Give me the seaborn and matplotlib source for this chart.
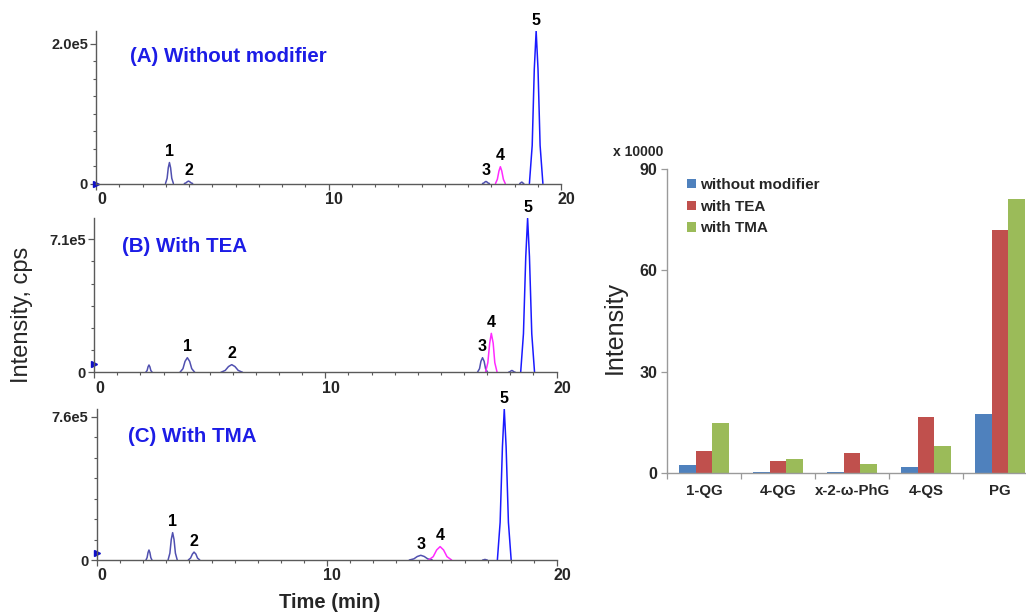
import numpy as np
import pandas as pd
import matplotlib
matplotlib.use("Agg")
import matplotlib.pyplot as plt
import seaborn as sns
from matplotlib.ticker import FixedLocator
from matplotlib.transforms import ScaledTranslation

sns.set_theme(style="ticks")
plt.rcParams["font.family"] = ["Liberation Sans", "DejaVu Sans"]

# ---------------- chromatogram data (time in min, intensity in cps) ----------------
# Panel A: without modifier
A_p1_t = [2.98, 3.05, 3.10, 3.15, 3.20, 3.25, 3.32]
A_p1_y = [0, 7500, 22500, 30000, 22500, 7500, 0]
A_p2_t = [3.79, 3.86, 3.92, 3.97, 4.02, 4.08, 4.15]
A_p2_y = [0, 900, 2600, 3500, 2600, 900, 0]
A_p3_t = [16.62, 16.68, 16.73, 16.77, 16.81, 16.86, 16.92]
A_p3_y = [0, 750, 2250, 3000, 2250, 750, 0]
A_px_t = [18.22, 18.26, 18.28, 18.31, 18.34, 18.36, 18.40]
A_px_y = [0, 500, 1500, 2000, 1500, 500, 0]
A_p4_t = [17.18, 17.26, 17.33, 17.39, 17.45, 17.52, 17.60]
A_p4_y = [0, 6000, 18000, 24000, 18000, 6000, 0]
A_p5_t = [18.64, 18.76, 18.85, 18.93, 19.01, 19.10, 19.22]
A_p5_y = [0, 54500, 163500, 218000, 163500, 54500, 0]

# Panel B: with TEA
B_px_t = [2.23, 2.29, 2.33, 2.37, 2.41, 2.45, 2.51]
B_px_y = [0, 9750, 29250, 39000, 29250, 9750, 0]
B_p1_t = [3.71, 3.84, 3.93, 4.03, 4.13, 4.22, 4.35]
B_p1_y = [0, 19500, 58500, 78000, 58500, 19500, 0]
B_p2_t = [5.48, 5.67, 5.81, 5.95, 6.09, 6.23, 6.42]
B_p2_y = [0, 10250, 30750, 41000, 30750, 10250, 0]
B_p3_t = [16.58, 16.67, 16.73, 16.80, 16.87, 16.93, 17.02]
B_p3_y = [0, 19500, 58500, 78000, 58500, 19500, 0]
B_py_t = [17.92, 17.98, 18.03, 18.07, 18.11, 18.16, 18.22]
B_py_y = [0, 2500, 7500, 10000, 7500, 2500, 0]
B_p4_t = [16.93, 17.03, 17.11, 17.18, 17.26, 17.33, 17.43]
B_p4_y = [0, 52000, 156000, 208000, 156000, 52000, 0]
B_p5_t = [18.45, 18.57, 18.67, 18.75, 18.83, 18.93, 19.05]
B_p5_y = [0, 205500, 616500, 822000, 616500, 205500, 0]

# Panel C: with TMA
C_px_t = [2.14, 2.19, 2.23, 2.27, 2.31, 2.35, 2.40]
C_px_y = [0, 13250, 39750, 53000, 39750, 13250, 0]
C_p1_t = [3.10, 3.18, 3.24, 3.30, 3.36, 3.42, 3.50]
C_p1_y = [0, 36250, 108750, 145000, 108750, 36250, 0]
C_p2_t = [3.98, 4.08, 4.16, 4.23, 4.31, 4.38, 4.48]
C_p2_y = [0, 10500, 31500, 42000, 31500, 10500, 0]
C_p3_t = [13.59, 13.79, 13.94, 14.09, 14.24, 14.39, 14.59]
C_p3_y = [0, 6250, 18750, 25000, 18750, 6250, 0]
C_py_t = [16.78, 16.82, 16.85, 16.88, 16.91, 16.94, 16.98]
C_py_y = [0, 750, 2250, 3000, 2250, 750, 0]
C_p4_t = [14.43, 14.63, 14.78, 14.93, 15.08, 15.23, 15.43]
C_p4_y = [0, 17750, 53250, 71000, 53250, 17750, 0]
C_p5_t = [17.42, 17.54, 17.64, 17.72, 17.80, 17.90, 18.02]
C_p5_y = [0, 200000, 600000, 800000, 600000, 200000, 0]

panel_titles = ["(A) Without modifier", "(B) With TEA", "(C) With TMA"]
y_top_ticks = [2.0e5, 7.1e5, 7.6e5]
y_top_labels = ["2.0e5", "7.1e5", "7.6e5"]
baseline_marks = [0, 43000, 39000]
x_ticklabels = ["0", "10", "20"]

# ---------------- bar chart data (x 10000) ----------------
compounds = ["1-QG", "4-QG", "x-2-\u03c9-PhG", "4-QS", "PG"]
conditions = ["without modifier", "with TEA", "with TMA"]
without_modifier = [2.5, 0.4, 0.2, 1.8, 17.6]
with_TEA = [6.5, 3.5, 5.9, 16.5, 72.0]
with_TMA = [14.7, 4.2, 2.8, 8.1, 81.2]
bar_yticks = [0, 30, 60, 90]

# ---------------- styling ----------------
SLATE = "#5050b0"
MAGENTA = "#ff2aff"
BLUE = "#1a1aff"
AXC = "#5a5a5a"
TITLE_BLUE = "#1c1ce6"

fig = plt.figure(figsize=(10.26, 6.15), dpi=100)

panels = [
    dict(rect=[0.0938, 0.7016, 0.4530, 0.2480], title_pos=(0.073, 0.83), minor_n=8,
         peaks=[("1", SLATE, A_p1_t, A_p1_y), ("2", SLATE, A_p2_t, A_p2_y),
                ("3", SLATE, A_p3_t, A_p3_y), ("", SLATE, A_px_t, A_px_y),
                ("4", MAGENTA, A_p4_t, A_p4_y), ("5", BLUE, A_p5_t, A_p5_y)]),
    dict(rect=[0.0918, 0.3946, 0.4506, 0.2504], title_pos=(0.060, 0.814), minor_n=6,
         peaks=[("", SLATE, B_px_t, B_px_y), ("1", SLATE, B_p1_t, B_p1_y),
                ("2", SLATE, B_p2_t, B_p2_y), ("3", SLATE, B_p3_t, B_p3_y),
                ("", SLATE, B_py_t, B_py_y), ("4", MAGENTA, B_p4_t, B_p4_y),
                ("5", BLUE, B_p5_t, B_p5_y)]),
    dict(rect=[0.0943, 0.0894, 0.4483, 0.2455], title_pos=(0.068, 0.815), minor_n=7,
         peaks=[("", SLATE, C_px_t, C_px_y), ("1", SLATE, C_p1_t, C_p1_y),
                ("2", SLATE, C_p2_t, C_p2_y), ("3", SLATE, C_p3_t, C_p3_y),
                ("", SLATE, C_py_t, C_py_y), ("4", MAGENTA, C_p4_t, C_p4_y),
                ("5", BLUE, C_p5_t, C_p5_y)]),
]

shift_right = ScaledTranslation(4 / 72, 0, fig.dpi_scale_trans)

for i, p in enumerate(panels):
    ax = fig.add_axes(p["rect"])
    frames = []
    for k, (lab, col, t, y) in enumerate(p["peaks"]):
        frames.append(pd.DataFrame({"t": t, "y": y, "peak": k, "color": col}))
    df = pd.concat(frames, ignore_index=True)
    cols = list(dict.fromkeys(df["color"]))
    sns.lineplot(data=df, x="t", y="y", hue="color", units="peak", estimator=None,
                 sort=False, palette={c: c for c in cols}, legend=False,
                 linewidth=1.1, ax=ax)
    ymax = df["y"].max()
    ax.set_xlim(0, 20)
    ax.set_ylim(0, ymax)
    ax.set_xticks([0, 10, 20])
    ax.set_xticklabels(x_ticklabels)
    ax.xaxis.set_minor_locator(FixedLocator(np.arange(0, 21, 1)))
    ax.set_yticks([0, y_top_ticks[i]])
    ax.set_yticklabels(["0", y_top_labels[i]])
    ax.yaxis.set_minor_locator(FixedLocator(np.linspace(0, y_top_ticks[i], p["minor_n"] + 1)))
    ax.set_xlabel("")
    ax.set_ylabel("")
    for s in ["top", "right"]:
        ax.spines[s].set_visible(False)
    for s in ["left", "bottom"]:
        ax.spines[s].set_color(AXC)
        ax.spines[s].set_linewidth(1.0)
    ax.tick_params(which="major", direction="out", length=4, width=0.9, color=AXC, pad=2)
    ax.tick_params(which="minor", direction="out", length=2.5, width=0.8, color=AXC)
    ax.tick_params(axis="x", labelsize=11.5)
    ax.tick_params(axis="y", labelsize=10.5)
    for lbl in ax.get_xticklabels():
        lbl.set_fontweight("bold")
        lbl.set_transform(lbl.get_transform() + shift_right)
    for lbl in ax.get_yticklabels():
        lbl.set_fontweight("bold")
    ax.patch.set_alpha(0)
    ax.text(p["title_pos"][0], p["title_pos"][1], panel_titles[i], transform=ax.transAxes,
            color=TITLE_BLUE, fontsize=14.8, fontweight="bold", va="center", ha="left")
    for lab, col, t, y in p["peaks"]:
        if lab:
            j = int(np.argmax(y))
            ax.annotate(lab, (t[j], y[j]), xytext=(0, 2.5), textcoords="offset points",
                        ha="center", va="bottom", fontsize=11.5, fontweight="bold",
                        color="black", annotation_clip=False)
    ax.plot([0], [baseline_marks[i]], marker=">", color="#1010c8", markersize=5,
            linestyle="none", clip_on=False)

fig.text(22 / 1026, 1 - 315 / 615, "Intensity, cps", rotation=90, ha="center", va="center",
         fontsize=17)
fig.text(330 / 1026, 1 - 603 / 615, "Time (min)", ha="center", va="center",
         fontsize=14.5, fontweight="bold")

# ---------------- bar chart ----------------
axb = fig.add_axes([667 / 1026, 1 - 473 / 615, (1037 - 667) / 1026, (473 - 169) / 615])
bar_df = pd.DataFrame({
    "compound": compounds * 3,
    "value": without_modifier + with_TEA + with_TMA,
    "condition": [conditions[0]] * 5 + [conditions[1]] * 5 + [conditions[2]] * 5,
})
sns.barplot(data=bar_df, x="compound", y="value", hue="condition",
            palette=["#4f81bd", "#c0504d", "#9bbb59"], width=0.68, gap=0,
            saturation=1, edgecolor="none", linewidth=0, ax=axb)
axb.set_xlim(-0.5, 4.5)
axb.set_ylim(0, 90)
axb.set_yticks(bar_yticks)
axb.set_xlabel("")
axb.set_ylabel("")
axb.xaxis.set_minor_locator(FixedLocator(np.arange(-0.5, 5.0, 1.0)))
axb.tick_params(axis="x", which="major", length=0, pad=8, labelsize=10.8)
axb.tick_params(axis="x", which="minor", length=4, width=0.9, color="#9a9a9a", direction="out")
axb.tick_params(axis="y", which="major", length=4, width=0.9, color="#9a9a9a",
                direction="out", labelsize=11.5, pad=3)
for lbl in axb.get_xticklabels() + axb.get_yticklabels():
    lbl.set_fontweight("bold")
for s in ["top", "right"]:
    axb.spines[s].set_visible(False)
for s in ["left", "bottom"]:
    axb.spines[s].set_color("#9a9a9a")
    axb.spines[s].set_linewidth(1.0)
axb.patch.set_alpha(0)
leg = axb.legend(loc="upper left", bbox_to_anchor=(0.055, 0.97), frameon=False,
                 prop={"weight": "bold", "size": 11}, handlelength=0.55,
                 handleheight=0.55, handletextpad=0.25, labelspacing=0.5,
                 borderpad=0, borderaxespad=0)

fig.text(615 / 1026, 1 - 327 / 615, "Intensity", rotation=90, ha="center", va="center",
         fontsize=18)
fig.text(613 / 1026, 1 - 152 / 615, "x 10000", ha="left", va="center",
         fontsize=10, fontweight="bold")

fig.savefig("out.png", dpi=100)
